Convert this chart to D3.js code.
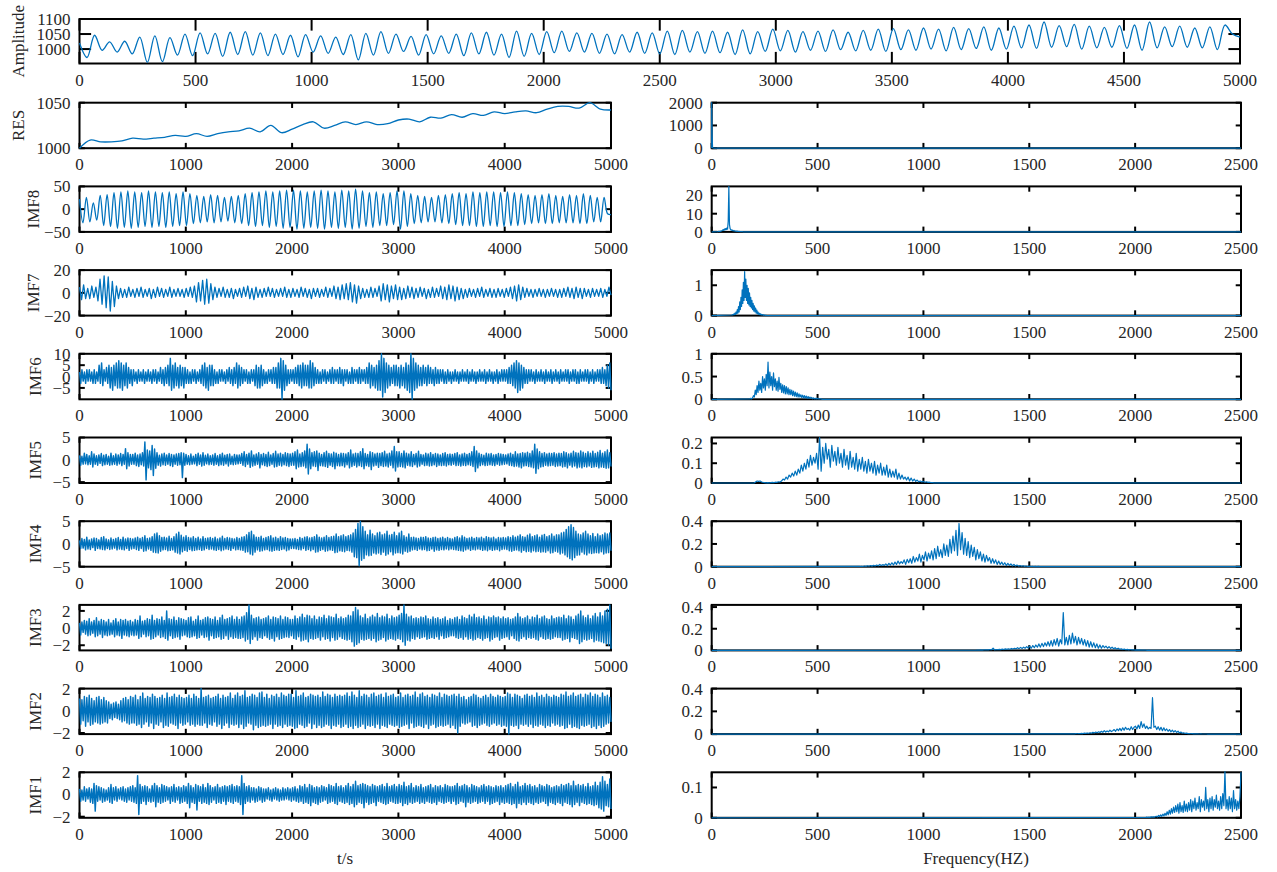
<!DOCTYPE html>
<html lang="en">
<head>
<meta charset="UTF-8">
<title>EMD decomposition</title>
<script src="https://d3js.org/d3.v7.min.js"></script>
<style>
  body { margin: 0; background: #fff; }
  svg { display: block; font-family: "Liberation Serif", "Times New Roman", serif; }
</style>
</head>
<body>
<svg id="chart" width="1277" height="872"></svg>
<script>
// ---- tick labels ----
const ampXTicks = [0, 500, 1000, 1500, 2000, 2500, 3000, 3500, 4000, 4500, 5000];
const ampYTicks = [1000, 1050, 1100];
const timeTicks = [0, 1000, 2000, 3000, 4000, 5000];
const freqTicks = [0, 500, 1000, 1500, 2000, 2500];

// ---- original signal (peaks / troughs, 0..5000) ----
const amplitude = [
  1020, 972, 1046, 996, 1024, 990, 1026, 984, 1040, 956, 1044, 958, 1038, 980, 1050, 978, 1054, 984, 1052, 976, 1056, 982, 1058, 980, 1054, 978, 1050, 982, 1046, 974, 1048,
  990, 1044, 986, 1040, 982, 1048, 964, 1052, 980, 1058, 986, 1050, 992, 1042, 980, 1048, 984, 1044, 986, 1050, 978, 1054, 984, 1056, 980, 1050, 972, 1060, 976, 1052, 982,
  1058, 988, 1060, 992, 1054, 990, 1052, 986, 1050, 984, 1048, 990, 1056, 986, 1054, 984, 1060, 982, 1062, 990, 1058, 986, 1060, 988, 1056, 982, 1064, 984, 1058, 992, 1066,
  994, 1062, 990, 1058, 996, 1060, 992, 1064, 998, 1056, 994, 1062, 996, 1066, 992, 1068, 998, 1064, 996, 1070, 1000, 1066, 994, 1072, 998, 1068, 1002, 1074, 996, 1070, 1000,
  1076, 1004, 1080, 1002, 1090, 1006, 1078, 1008, 1082, 1000, 1076, 1004, 1072, 1006, 1078, 1002, 1080, 996, 1090, 1004, 1074, 1008, 1076, 1006, 1070, 1004, 1074, 998, 1080, 1050, 1040
];

// ---- decomposition, time domain ----
const res = [1000, 1009, 1007, 1007, 1008, 1011, 1010, 1011, 1012, 1014, 1013, 1016, 1013, 1016, 1018, 1019, 1022, 1018, 1025, 1017,
  1021, 1026, 1029, 1022, 1025, 1029, 1026, 1029, 1026, 1027, 1031, 1032, 1029, 1034, 1033, 1037, 1034, 1038, 1036, 1040,
  1038, 1040, 1041, 1039, 1043, 1046, 1046, 1044, 1050, 1043, 1042];

const imf8 = [
  22,-30,26,-28,14,-24,30,-36,32,-38,36,-42,38,-40,40,-42,38,-40,36,-38,40,-40,38,-38,36,-40,38,-38,34,-36,38,
  -36,34,-32,30,-30,28,-28,32,-30,30,-28,26,-26,28,-30,30,-32,34,-36,36,-38,38,-36,40,-40,38,-38,40,-42,42,-40,
  42,-44,40,-42,38,-40,40,-42,42,-44,40,-40,38,-42,42,-40,40,-44,44,-42,40,-38,36,-40,38,-36,34,-36,36,-34,40,
  -44,40,-38,34,-32,30,-30,28,-28,26,-28,30,-30,32,-32,34,-34,36,-36,34,-36,38,-38,36,-38,38,-36,38,-38,36,-38,
  38,-36,36,-36,34,-34,32,-32,30,-30,32,-32,34,-32,30,-30,28,-30,32,-30,30,-32,34,-32,30,-28,26,-28,26,-10,-12
];

const imf7 = [
  5,-6,7,-5,4,-5,6,-4,5,-7,12,-10,15,-13,14,-16,10,-12,6,-5,4,-4,3,-4,5,-3,
  3,-4,4,-3,5,-4,3,-3,4,-5,3,-4,5,-3,4,-4,3,-3,5,-4,3,-3,4,-3,3,-4,
  4,-3,5,-4,6,-8,9,-7,11,-10,12,-9,8,-6,5,-4,4,-3,5,-4,3,-4,4,-5,3,-3,
  4,-4,5,-3,6,-5,4,-6,5,-4,3,-4,4,-3,5,-3,4,-4,3,-3,4,-3,5,-4,3,-4,
  4,-3,3,-4,5,-3,4,-4,3,-5,4,-3,4,-4,3,-3,5,-4,4,-3,6,-5,5,-6,7,-5,
  8,-6,9,-8,7,-9,6,-5,4,-4,3,-4,5,-4,4,-3,6,-7,8,-6,7,-8,6,-5,7,-6,
  5,-6,4,-5,6,-4,5,-5,4,-4,5,-3,4,-5,3,-4,5,-4,4,-3,6,-5,5,-6,7,-5,
  6,-7,5,-6,4,-5,3,-4,4,-3,3,-4,4,-3,5,-4,3,-3,4,-4,3,-4,4,-3,3,-4,
  4,-3,5,-5,6,-7,7,-6,5,-4,4,-3,3,-4,3,-3,4,-3,3,-4,3,-3,4,-3,3,-4,
  3,-4,4,-3,5,-4,4,-5,5,-4,4,-5,4,-3,3,-4,4,-3,3,-3,4,-4,3,-3,5,-2
];

const imf6 = [
  2,-3,3,-2,2,-3,3,-2,3,-2,2,-3,3,-3,2,-2,5,-3,6,-4,3,-2,4,-3,5,-5,4,-6,5,-4,6,-5,7,-5,6,-6,5,-4,6,-5,4,-3,3,-4,
  3,-2,2,-3,3,-2,2,-2,3,-3,2,-2,3,-2,2,-3,3,-2,3,-3,2,-2,4,-3,3,-4,4,-3,5,-4,8,-6,5,-5,6,-4,4,-5,5,-4,4,-5,4,-3,
  3,-3,2,-3,3,-2,3,-3,2,-2,3,-3,5,-4,6,-5,4,-6,5,-4,5,-4,3,-3,2,-3,3,-2,3,-2,2,-3,3,-2,4,-3,3,-4,4,-3,6,-5,5,-4,
  4,-3,3,-2,3,-3,2,-3,3,-2,3,-4,5,-5,4,-5,5,-4,3,-3,2,-3,3,-2,3,-3,4,-3,4,-5,6,-5,8,-10,7,-6,5,-4,3,-3,3,-2,
  3,-3,4,-3,5,-4,5,-5,6,-4,5,-4,5,-5,7,-5,6,-4,4,-3,3,-3,2,-3,3,-2,3,-3,2,-2,3,-3,4,-3,3,-2,3,-3,4,-3,3,-4,
  3,-2,3,-3,2,-3,4,-3,3,-2,3,-3,4,-3,3,-2,3,-3,4,-3,6,-5,5,-4,4,-5,5,-6,7,-6,10,-9,8,-7,6,-5,5,-4,4,-3,5,-4,
  5,-4,4,-5,5,-4,4,-5,6,-6,5,-7,10,-10,8,-6,6,-5,5,-4,4,-4,5,-3,4,-4,5,-3,4,-3,3,-4,4,-3,3,-3,3,-2,3,-3,2,-3,3,-2,
  2,-3,2,-2,3,-2,2,-3,2,-2,3,-2,2,-2,3,-3,2,-2,3,-2,2,-3,2,-2,3,-2,2,-2,3,-3,2,-2,3,-2,2,-3,2,-2,3,-3,2,-2,3,-2,
  3,-2,3,-3,4,-3,5,-4,6,-5,7,-7,6,-6,5,-5,4,-3,3,-3,3,-2,3,-2,2,-3,3,-2,2,-2,3,-2,2,-3,3,-2,2,-2,3,-3,2,-2,3,-2,
  2,-3,3,-2,2,-2,3,-2,3,-3,2,-2,3,-2,3,-3,2,-3,3,-2,2,-2,3,-2,3,-3,2,-2,3,-3,2,-2,3,-2,3,-3,4,-3,3,-4,5,-5,6,-6
];

const imf5 = [
  1,-1.2,0.8,-1,1.5,-0.9,1.2,-1.1,0.9,-1,1.8,-1.6,1.3,-1,0.9,-1.2,1.1,-0.8,1.4,-1.3,1,-1.1,1.2,-1,0.8,-1.2,1.5,-1.1,0.9,-1,1.3,-1.2,1.1,-0.9,1.4,-1.3,1.2,-1,2.5,-2,1.6,-1.4,1.2,-1,
  1.2,-1,1.5,-1.3,1.1,-1.5,1.3,-1.1,1.6,-1.4,4,-4.5,2.2,-1.8,2,-2.2,3.2,-3.5,2.4,-1.9,1.6,-1.2,1,-1.4,1.3,-1.1,1.5,-1.2,1.1,-1,1.4,-1.3,1.2,-1.5,1.1,-1,1.3,-1.2,1.4,-1.1,1.6,-4,1.5,-1.2,
  1.2,-1,0.9,-1.1,1.3,-1,0.8,-0.9,1.2,-1.3,1.5,-1,1.1,-1.4,1.6,-1.2,1,-0.9,1.3,-1.1,0.9,-1,1.1,-1.2,1.4,-1,0.9,-1.3,1.2,-1.1,1.5,-1.2,1,-0.9,1.2,-1.4,1.3,-1,0.8,-1.1,1.2,-1,1.1,-0.9,
  1.1,-0.8,1.4,-1.2,1.8,-1.5,1.2,-1,1.5,-1.7,2,-1.4,1.1,-1.2,1.3,-1,1.6,-1.8,1.2,-1.1,1.4,-1.3,1.2,-1.5,1.7,-1.3,1.1,-1,1.4,-1.6,1.9,-1.5,1.3,-1.2,1.5,-1.4,1.2,-1.1,1.6,-1.3,1.4,-1.5,1.3,-1.2,
  1.5,-1.2,1.8,-2,2.2,-1.6,1.3,-1.5,1.6,-1.4,2,-1.8,3.5,-3.2,2.4,-2,1.6,-1.4,1.8,-1.5,2,-2.4,1.5,-1.3,1.2,-1.4,1.6,-1.5,1.9,-1.7,1.4,-1.2,1.3,-1.5,1.7,-2,1.5,-1.3,1.2,-1.4,1.5,-1.3,1.4,-1.6,
  1.3,-1.1,1.6,-1.8,2.2,-1.5,1.3,-1.2,1.5,-1.6,1.4,-1.3,1.8,-1.5,2.5,-2,1.4,-1.3,1.2,-1.5,1.8,-2.2,1.6,-1.4,1.3,-1.2,1.5,-1.7,1.4,-1.3,1.6,-1.5,1.9,-1.4,1.3,-1.6,1.5,-1.2,2,-1.8,3,-2.5,1.8,-1.6,
  1.8,-1.5,1.4,-1.6,2,-1.8,1.5,-1.2,1.3,-1.4,1.8,-1.5,1.2,-1.1,1.4,-1.6,1.9,-1.4,1.2,-1,1.1,-1.3,1.5,-1.2,1.3,-1.4,1.6,-1.3,1.2,-1.1,1.4,-1.5,1.3,-1.2,1.1,-1.3,1.4,-1.2,1.6,-1.4,1.2,-1.1,1.3,-1.2,
  1.2,-1,1.4,-1.3,1.6,-1.2,1.1,-1.4,1.3,-1.2,1.5,-1.3,1.2,-1.1,1.4,-1.2,1.8,-1.5,3,-2.6,2,-1.8,1.5,-1.3,1.2,-1.1,1,-1.3,1.5,-1.2,1.3,-1.1,1.4,-1.2,1.1,-1.3,1.2,-1,1.4,-1.2,1.3,-1.1,1.2,-1,
  1.1,-0.9,1.3,-1.2,1.5,-1.3,1.2,-1.5,1.8,-1.4,1.3,-1.6,1.4,-1.8,1.6,-1.4,1.5,-1.3,1.7,-1.5,1.4,-1.6,2,-1.8,3.5,-3,2.4,-2,1.8,-1.6,1.4,-1.5,1.6,-1.2,1.3,-1.4,1.5,-1.3,1.4,-1.2,1.6,-1.5,1.3,-1.4,
  1.5,-1.3,1.4,-1.6,1.8,-1.5,1.6,-1.8,1.3,-1.2,1.5,-1.6,1.9,-1.4,1.6,-1.8,1.5,-1.6,2,-1.8,1.7,-1.5,1.4,-1.6,1.8,-1.4,1.5,-1.7,1.9,-1.6,1.4,-1.5,1.7,-1.8,2.1,-1.6,1.5,-1.7,1.8,-1.9,2.2,-1.8,1.6,-1.5
];

const imf4 = [
  0.8,-1,1.2,-0.9,1,-1.3,1.5,-1.1,0.9,-1.2,1.1,-0.8,1.3,-1.4,1.2,-1,0.9,-1.1,1.4,-1.2,1.6,-1.3,1.1,-1,0.9,-1.2,1.3,-1.1,1,-0.9,1.2,-1.3,1.4,-1.1,1,-1.2,1.5,-1.3,1.1,-1,1.3,-1.4,1.2,-1.1,
  1.1,-1,1.3,-1.2,1.5,-1.4,1.2,-1,1.4,-1.6,1.8,-1.5,1.2,-1.1,1.3,-1.4,1.6,-1.8,2.2,-1.9,2.4,-2,1.8,-1.6,1.4,-1.3,1.5,-1.2,1.3,-1.5,1.7,-1.4,1.2,-1.3,1.6,-1.8,2.2,-2,2.6,-2.2,1.9,-1.7,1.5,-1.4,
  1.8,-1.6,1.4,-1.2,1.3,-1.5,1.6,-1.4,1.2,-1.3,1.5,-1.2,1.1,-1.4,1.6,-1.3,1.2,-1,1.3,-1.2,1.4,-1.1,1.2,-1.3,1.5,-1.4,1.1,-1.2,1.3,-1.5,1.7,-1.3,1.2,-1.1,1.4,-1.2,1.3,-1.4,1.2,-1,1.1,-1.3,1.4,-1.2,
  1.2,-1.3,1.5,-1.4,1.6,-1.8,2,-1.7,2.5,-2.2,2.8,-2.4,2,-1.8,1.5,-1.3,1.4,-1.6,1.7,-1.5,1.2,-1.3,1.4,-1.2,1.6,-1.5,1.8,-1.6,1.3,-1.4,1.5,-1.3,1.2,-1.4,1.6,-1.2,1.3,-1.1,1.4,-1.5,1.2,-1.3,1.1,-1,
  1.1,-1,1.2,-1.1,1,-1.2,1.4,-1.3,1.2,-1,1.5,-1.4,1.6,-1.2,1.3,-1.5,1.4,-1.2,1.6,-1.8,2,-1.7,1.5,-1.4,1.3,-1.2,1.5,-1.6,1.8,-1.5,1.4,-1.3,1.6,-1.4,1.7,-1.9,2.2,-1.8,1.6,-1.5,1.8,-1.6,2,-1.7,
  1.6,-1.4,1.8,-1.5,2,-1.8,2.4,-2.8,3.2,-3,4.5,-4.8,5,-3.6,3.8,-3.2,2.8,-2.4,2,-2.6,3,-2.5,2.2,-2,1.8,-2.2,2.4,-2,2.6,-2.3,2,-1.8,2.2,-2.5,2.8,-2.2,1.9,-1.7,2.1,-2.4,2.6,-2,1.8,-1.9,
  2.4,-2,2.8,-2.2,1.8,-1.6,1.5,-1.8,2.2,-1.6,1.4,-1.3,1.5,-1.2,1.3,-1.4,1.2,-1.1,1.5,-1.3,1.4,-1.2,1.6,-1.5,1.3,-1.4,1.2,-1.1,1.4,-1.6,1.5,-1.3,1.2,-1.4,1.3,-1.2,1.5,-1.3,1.2,-1.1,1.4,-1.3,1.2,-1.1,
  1.1,-1.2,1.4,-1.3,1.6,-1.4,1.3,-1.5,1.8,-1.6,1.5,-1.3,1.2,-1.1,1.3,-1.4,1.5,-1.2,1.2,-1.3,1.4,-1.1,1.3,-1.2,1.5,-1.4,1.2,-1.3,1.6,-1.5,1.4,-1.2,1.3,-1.4,1.5,-1.3,1.1,-1.2,1.4,-1.5,1.3,-1.2,1.4,-1.1,
  1.3,-1.2,1.6,-1.5,1.4,-1.6,1.8,-1.4,1.5,-1.3,1.7,-1.5,2,-1.8,1.6,-1.4,1.5,-1.7,1.9,-1.6,2.2,-1.8,1.6,-1.5,1.8,-1.7,2,-1.6,1.5,-1.8,1.9,-1.7,2.1,-1.8,1.6,-1.5,1.8,-2,2.2,-1.9,1.7,-1.6,2,-1.8,
  2,-2.2,2.4,-2,2.6,-2.4,3.2,-2.8,3.8,-3.2,4.2,-3.5,3.6,-3,2.8,-2.5,2.2,-2.4,2,-1.8,2.4,-2.2,2.8,-2.4,2.2,-2,1.8,-2.1,2.3,-2,1.6,-1.9,2.2,-2,1.8,-1.7,2,-2.2,2.4,-2,2.2,-1.9,2.4,-1.5
];

const imf3 = [
  0.6,-0.8,0.7,-0.5,0.9,-0.7,0.8,-0.9,1.1,-0.8,0.7,-0.6,0.9,-1,1.2,-0.9,0.8,-0.7,1,-1.1,0.9,-0.8,0.7,-0.9,1,-0.8,0.6,-0.7,0.9,-1,1.1,-0.8,0.7,-0.9,1,-1.2,0.9,-0.8,1,-0.9,0.8,-1,0.9,-0.8,
  0.7,-0.9,1,-0.8,0.9,-1.2,1.4,-1,0.8,-0.7,0.9,-1,1.1,-0.9,1,-1.3,1.5,-1.2,0.9,-1,1.1,-0.8,1,-1.1,1.3,-1,0.9,-1.2,2,-1.4,1.1,-0.9,1,-1.2,1.3,-1.1,0.9,-1,1.2,-1.3,1.1,-0.9,1,-0.8,
  0.9,-1,1.2,-1.1,1.3,-1,0.8,-0.9,1,-1.2,1.4,-1.1,0.9,-0.8,1,-1.1,1.2,-1,1.3,-1.4,1.1,-0.9,1,-1.2,1.3,-1.1,0.9,-1,1.2,-1.3,1.5,-1.2,1,-0.9,1.1,-1.3,1.2,-1,1.4,-1.2,1,-1.1,1.3,-1.2,
  1,-1.2,1.3,-1.1,1.4,-1.5,1.8,-1.3,2.7,-1.8,1.5,-1.3,1.1,-1,1.2,-1.4,1.3,-1.1,1,-1.2,1.1,-0.9,1.2,-1.1,1.4,-1.3,1,-1.2,1.3,-1.5,1.2,-1,1.1,-1.3,1.4,-1.2,1,-1.1,1.3,-1,1.2,-1.1,1,-0.9,
  1,-1.2,1.4,-1.3,1.1,-1,1.3,-1.5,1.6,-1.4,1.2,-1.3,1.5,-1.6,1.4,-1.2,1.1,-1.3,1.4,-1.2,1,-1.1,1.3,-1.4,1.2,-1,1.5,-1.3,1.1,-1.2,1.4,-1.5,1.3,-1.1,1.2,-1.4,1.6,-1.3,1.1,-1,1.3,-1.2,1.1,-1.3,
  1.2,-1.4,1.5,-1.3,1.4,-1.6,1.9,-2.1,2.4,-1.9,2.1,-1.7,1.4,-1.3,1.2,-1.4,1.6,-1.3,1.1,-1.2,1.3,-1.4,1.5,-1.2,1.3,-1.6,1.7,-1.4,1.2,-1.3,1.4,-1.1,1.3,-1.5,1.6,-1.3,1.1,-1.2,1.4,-1.3,1.2,-1.4,1.3,-1.2,
  1.5,-1.3,1.7,-1.6,2.7,-2,1.6,-1.4,1.3,-1.5,1.4,-1.2,1.1,-1.3,1.2,-1,1.1,-1.2,1.3,-1.1,1.2,-1,1.4,-1.3,1.1,-1.2,1,-1.1,1.3,-1.2,1.1,-1,1.2,-1.3,1,-0.9,1.1,-1.2,1.3,-1.1,0.9,-1,1.1,-0.9,
  1,-0.9,1.2,-1.1,1.3,-1.2,1,-1.1,1.4,-1.3,1.2,-1,1.1,-1.3,1.5,-1.2,1.3,-1.4,1.6,-1.3,1.2,-1.1,1.3,-1.2,1.1,-1.4,1.4,-1.2,1,-1.1,1.3,-1.5,1.2,-1.3,1.4,-1.1,1.2,-1,1.3,-1.4,1.1,-1.2,1.3,-1.1,
  1.1,-1,1.2,-1.3,1,-0.9,1.1,-1.2,1.3,-1.4,1.7,-1.5,1.3,-1.2,1.1,-1,1.2,-1.3,1.4,-1.1,1,-1.2,1.3,-1.1,1.2,-1.3,1.5,-1.4,1.1,-1,1.3,-1.2,1.4,-1.3,1.1,-1.2,1,-1.3,1.4,-1.2,1.1,-1,1.2,-1.1,
  1.3,-1.1,1.2,-1.4,1.5,-1.3,1.1,-1.2,1.4,-1.6,1.3,-1.1,1,-1.2,1.4,-1.3,1.6,-1.8,2,-1.6,1.4,-1.3,1.2,-1.4,1.5,-1.3,1.1,-1.2,1.4,-1.6,1.7,-1.4,1.3,-1.5,1.8,-1.6,1.4,-1.7,2,-1.8,2.2,-2,2.7,-2.4
];

const imf2 = [
  1.1,-1.2,1,-0.9,1.3,-1.4,1.2,-1,1.4,-1.3,1.1,-1.2,0.9,-1,1.2,-1.1,1.3,-1.2,1,-1.1,1.2,-1,0.9,-1.1,0.8,-0.7,0.6,-0.8,0.7,-0.6,0.8,-0.7,0.6,-0.8,0.9,-1,1.1,-0.9,1.2,-1.1,1,-1.2,1.3,-1.1,
  1.2,-1.1,1.4,-1.3,1,-1.2,1.3,-1.5,1.6,-1.2,1.1,-1,1.3,-1.4,1.2,-1.1,1.5,-1.6,1.3,-1.2,1.1,-1.3,1.2,-1,1.4,-1.5,1.1,-1.3,1.6,-1.4,1.2,-1.1,1.3,-1.2,1.5,-1.3,1.2,-1.6,1.4,-1.1,1.2,-1.3,1.1,-1.2,
  1.2,-1,1.4,-1.3,1.1,-1.2,1.5,-1.4,1.3,-1.2,1.1,-1.3,2,-1.3,1.2,-1.1,1.3,-1.5,1.4,-1.2,1.1,-1.3,1.2,-1,1.3,-1.4,1.5,-1.2,1.1,-1.6,1.4,-1.3,1.2,-1.1,1.3,-1.5,1.6,-1.2,1.1,-1.3,1.4,-1.2,
  1.6,-1.5,1.3,-1.2,1.4,-1.6,1.8,-1.4,1.2,-1.1,1.3,-1.2,1.5,-1.7,1.4,-1.3,1.2,-1.5,1.6,-1.4,1.7,-1.3,1.2,-1.4,1.5,-1.3,1.1,-1.2,1.4,-1.6,1.3,-1.2,1.5,-1.4,1.2,-1.3,1.6,-1.5,1.4,-1.2,1.3,-1.4,1.5,-1.3,
  1.5,-1.4,1.2,-1.6,1.8,-1.5,1.3,-1.2,1.4,-1.3,1.6,-1.5,1.2,-1.4,1.3,-1.1,1.5,-1.6,1.4,-1.2,1.3,-1.5,1.4,-1.3,1.2,-1.5,1.7,-1.4,1.3,-1.2,1.5,-1.3,1.4,-1.6,1.2,-1.3,1.5,-1.4,1.3,-1.2,1.4,-1.5,1.3,-1.4,
  1.4,-1.2,1.6,-1.5,1.3,-1.4,1.7,-1.6,1.4,-1.3,1.2,-1.5,1.8,-1.4,1.3,-1.2,1.5,-1.6,1.4,-1.3,1.2,-1.4,1.5,-1.3,1.6,-1.5,1.3,-1.2,1.4,-1.6,1.5,-1.3,1.2,-1.4,1.6,-1.5,1.3,-1.2,1.4,-1.3,1.5,-1.4,1.2,-1.3,
  1.3,-1.5,1.6,-1.4,1.2,-1.3,1.4,-1.2,1.5,-1.6,1.3,-1.1,1.4,-1.5,1.7,-1.4,1.2,-1.3,1.5,-1.4,1.6,-1.5,1.3,-1.2,1.4,-1.6,1.2,-1.3,1.5,-1.2,1.4,-1.5,1.3,-1.4,1.6,-1.3,1.2,-1.4,1.5,-1.3,1.4,-1.2,1.3,-1.5,
  1.4,-1.3,1.5,-1.6,1.3,-2,1.5,-1.4,1.2,-1.1,1.3,-1.2,1,-1.1,1.2,-1,1.3,-1.4,1.5,-1.3,1.4,-1.5,1.2,-1.3,1.1,-1.2,1.3,-1.1,1.4,-1.3,1.2,-1.4,1.5,-1.2,1.3,-1.1,1.2,-1.3,1.4,-1.2,1.3,-1.4,1.2,-1.3,
  1.3,-1.4,1.6,-2.1,1.5,-1.3,1.2,-1.4,1.5,-1.3,1.4,-1.6,1.3,-1.2,1.1,-1.3,1.4,-1.2,1.5,-1.4,1.3,-1.2,1.4,-1.5,1.2,-1.3,1.6,-1.4,1.3,-1.2,1.4,-1.3,1.2,-1.5,1.5,-1.3,1.3,-1.4,1.2,-1.1,1.4,-1.3,1.3,-1.2,
  1.2,-1.4,1.5,-1.3,1.4,-1.6,1.7,-1.5,1.3,-1.2,1.4,-1.5,1.6,-1.4,1.3,-1.5,1.4,-1.6,1.5,-1.3,1.2,-1.4,1.5,-1.3,1.4,-1.2,1.6,-1.5,1.3,-1.4,1.5,-1.6,1.4,-1.3,1.2,-1.5,1.6,-1.4,1.3,-1.2,1.4,-1.1,1.2,-1
];

const imf1 = [
  0.5,-0.6,0.4,-0.5,0.7,-0.6,0.5,-0.4,0.6,-0.7,0.5,-0.8,1,-1.5,0.8,-0.6,0.7,-0.5,0.6,-0.7,0.5,-0.6,0.4,-0.5,0.6,-0.7,0.9,-0.8,0.6,-0.5,0.7,-0.6,0.5,-0.4,0.6,-0.5,0.7,-0.6,0.5,-0.7,0.6,-0.5,0.7,-0.6,
  0.8,-0.7,0.6,-0.8,1.7,-1.8,0.9,-0.8,0.7,-0.6,0.8,-0.9,0.7,-0.6,0.5,-0.7,0.8,-0.6,1,-1.1,0.8,-0.7,0.6,-0.8,0.9,-0.7,0.8,-0.6,0.7,-0.5,0.6,-0.8,0.7,-0.6,0.9,-0.7,0.6,-0.5,0.7,-0.8,0.6,-0.7,0.8,-0.6,
  0.7,-0.8,1,-1.2,0.8,-0.7,0.6,-0.8,0.9,-1.4,0.8,-0.6,0.7,-0.8,0.9,-0.7,0.6,-0.8,1,-0.9,0.8,-0.7,0.6,-0.5,0.7,-0.8,0.9,-0.7,0.6,-0.8,0.7,-0.6,0.8,-0.9,0.7,-0.6,0.8,-0.7,0.9,-0.8,0.7,-0.6,0.8,-0.7,
  0.7,-0.9,1.7,-1.8,1,-0.8,0.7,-0.6,0.8,-0.7,0.6,-0.5,0.6,-0.7,0.5,-0.6,0.7,-0.5,0.6,-0.7,0.5,-0.6,0.5,-0.4,0.6,-0.5,0.4,-0.6,0.5,-0.4,0.6,-0.5,0.5,-0.6,0.4,-0.5,0.6,-0.5,0.5,-0.4,0.6,-0.5,0.5,-0.6,
  0.6,-0.5,0.7,-0.6,0.5,-0.7,0.8,-0.6,0.7,-0.8,0.9,-0.7,0.6,-0.8,0.9,-1,0.8,-0.7,0.6,-0.8,0.7,-0.9,0.6,-0.7,0.8,-0.6,0.7,-0.5,0.6,-0.8,0.9,-0.7,0.8,-0.6,0.7,-0.8,1,-0.9,0.7,-0.6,0.8,-0.7,0.6,-0.8,
  0.8,-0.7,1,-0.9,0.7,-0.8,0.9,-1.1,1.2,-0.9,0.8,-0.7,0.9,-0.8,1,-1.2,0.9,-0.7,0.8,-0.9,0.7,-0.8,0.9,-0.7,0.8,-1,0.7,-0.6,0.8,-0.7,0.9,-0.8,0.7,-0.9,1,-0.8,0.7,-0.6,0.8,-0.7,0.9,-0.8,0.7,-0.8,
  0.9,-0.7,0.8,-1,1.1,-0.8,0.7,-0.9,0.8,-0.7,1,-0.8,0.6,-0.7,0.8,-0.6,0.7,-0.8,0.9,-0.7,0.6,-0.8,0.7,-0.6,0.8,-0.7,0.9,-0.8,0.6,-0.7,0.8,-0.9,0.7,-0.6,0.8,-0.7,0.6,-0.8,0.9,-0.7,0.8,-0.6,0.7,-0.8,
  0.7,-0.6,0.8,-0.9,1,-0.8,0.7,-0.6,0.8,-0.7,0.9,-1.1,0.8,-0.7,0.6,-0.8,0.9,-0.7,0.8,-0.6,0.7,-0.8,0.6,-0.7,0.8,-0.6,0.9,-0.8,0.7,-0.6,0.8,-0.9,0.7,-0.8,0.6,-0.7,0.8,-0.6,0.7,-0.9,0.8,-0.7,0.6,-0.8,
  0.8,-0.7,0.9,-0.8,1,-0.9,0.7,-0.8,0.9,-1.2,1.1,-0.8,0.7,-0.9,0.8,-0.7,1,-0.9,0.8,-0.7,0.9,-0.8,0.7,-0.9,0.8,-0.7,0.6,-0.8,0.9,-0.7,0.8,-0.6,0.7,-0.8,0.9,-1,0.8,-0.7,0.6,-0.8,0.7,-0.9,0.8,-0.7,
  0.7,-0.8,0.9,-1,0.8,-0.7,0.9,-0.8,1,-0.9,0.8,-1.1,1.2,-0.9,0.8,-0.7,0.9,-1,0.8,-0.7,0.9,-0.8,0.7,-0.9,1,-0.8,0.7,-0.9,0.8,-1,1.1,-0.9,0.8,-1.2,1.1,-1.3,1.6,-1.5,1.2,-1,0.9,-1.1,1.4,-1.3
];

// ---- spectra: values over a frequency band [from, to] in Hz, zero elsewhere ----
const resSpecBand = [0, 20];
const resSpec = [2000, 600, 40, 15, 8, 5, 4, 3, 2, 2, 1];

const imf8SpecBand = [30, 150];
const imf8Spec = [0.2,0.3,0.2,0.4,0.3,0.5,0.6,0.9,1.2,0.8,1.6,1.1,1.8,1.3,2.2,1.5,6,25,4,1.8,1.2,0.9,1.1,0.7,0.6,0.8,0.5,0.4,0.5,0.3,0.4,0.3,0.2,0.3,0.2,0.2,0.1,0.2,0.1,0.1,0];

const imf7SpecBand = [95, 265];
const imf7Spec = [0.02,0.03,0.02,0.05,0.03,0.08,0.04,0.12,0.06,0.2,0.08,0.3,0.12,0.45,0.2,0.6,0.3,0.85,0.4,1.1,0.5,1.45,0.6,1.2,0.5,1.0,0.4,0.9,0.35,0.75,0.3,0.6,0.25,0.5,0.2,0.4,0.15,0.32,0.12,0.25,0.08,0.18,0.06,0.12,0.04,0.08,0.03,0.06,0.02,0.04,0.02,0.03,0.01,0.02,0.01,0.01,0.01,0,0,0];

const imf6SpecBand = [180, 520];
const imf6Spec = [0.01,0.02,0.01,0.03,0.08,0.05,0.2,0.1,0.3,0.15,0.4,0.2,0.35,0.15,0.5,0.25,0.45,0.2,0.55,0.3,0.82,0.25,0.6,0.3,0.5,0.2,0.58,0.28,0.45,0.2,0.4,0.18,0.48,0.22,0.35,0.15,0.32,0.14,0.3,0.12,0.28,0.12,0.25,0.1,0.22,0.1,0.2,0.08,0.18,0.07,0.16,0.06,0.14,0.05,0.12,0.05,0.1,0.04,0.09,0.03,0.08,0.03,0.07,0.02,0.06,0.02,0.05,0.02,0.04,0.01,0.03,0.01,0.02,0.01,0.02,0.01,0.01,0.01,0.01,0];

const imf5SpecBand = [200, 1050];
const imf5Spec = [
  0,0.005,0.01,0.008,0.01,0.005,0.003,0.002,0.001,0.002,0.001,0.002,0.003,0.002,0.004,0.003,0.006,0.005,
  0.01,0.02,0.015,0.03,0.02,0.04,0.03,0.05,0.035,0.06,0.04,0.07,0.05,0.09,0.06,0.1,0.07,
  0.12,0.08,0.14,0.09,0.13,0.1,0.15,0.07,0.23,0.06,
  0.18,0.1,0.2,0.12,0.17,0.08,0.19,0.11,0.16,0.09,0.18,0.1,0.15,0.08,0.17,0.09,0.14,0.07,0.16,0.08,0.13,0.07,0.15,0.06,0.12,
  0.07,0.13,0.06,0.11,0.05,0.12,0.06,0.1,0.05,0.11,0.04,0.09,0.05,0.1,
  0.04,0.08,0.04,0.09,0.03,0.07,0.03,0.06,0.03,0.07,0.02,0.05,0.02,0.04,
  0.02,0.03,0.015,0.03,0.01,0.025,0.01,0.02,0.008,0.015,0.006,0.01,0.005,0.008,0.004,0.006,0.003,0.004,0.002,0.002,0.001
];

const imf4SpecBand = [700, 1550];
const imf4Spec = [
  0.002,0.004,0.002,0.006,0.003,0.008,0.004,0.01,0.005,0.012,0.006,0.015,0.008,0.02,0.01,0.018,0.012,0.025,0.01,0.03,0.015,
  0.035,0.015,0.04,0.02,0.05,0.025,0.045,0.03,0.06,0.02,0.065,0.035,0.07,0.03,
  0.09,0.04,0.08,0.05,0.11,0.04,0.1,0.06,0.13,0.05,0.12,0.07,0.14,0.06,
  0.16,0.07,0.18,0.09,0.15,0.08,0.2,0.1,0.19,0.09,0.24,
  0.12,0.27,0.14,0.32,0.1,0.38,0.15,0.3,0.11,0.25,
  0.1,0.22,0.08,0.19,0.09,0.17,0.06,0.15,0.07,0.13,0.05,
  0.11,0.04,0.1,0.05,0.08,0.03,0.07,0.03,0.06,0.02,
  0.05,0.02,0.04,0.015,0.035,0.01,0.03,0.012,0.025,0.008,0.02,0.006,0.015,0.005,
  0.01,0.004,0.008,0.003,0.006,0.002,0.005,0.002,0.004,0.001,0.003,0.001,0.002,0.001
];

const imf3SpecBand = [1250, 2100];
const imf3Spec = [
  0.002,0.003,0.002,0.004,0.003,0.005,0.004,0.006,0.005,0.008,0.006,0.02,0.005,0.008,0.006,0.01,0.007,0.012,0.008,0.014,0.01,
  0.015,0.01,0.018,0.012,0.02,0.014,0.025,0.016,0.028,0.018,0.03,0.02,0.035,0.022,
  0.04,0.02,0.045,0.025,0.05,0.03,0.06,0.03,0.065,0.035,0.07,0.04,0.08,0.04,
  0.09,0.04,0.1,0.05,0.11,0.04,0.1,0.06,0.35,0.05,
  0.12,0.05,0.14,0.06,0.16,0.07,0.13,0.05,0.12,0.06,0.11,
  0.05,0.1,0.04,0.09,0.03,0.08,0.03,0.07,0.025,0.06,0.02,0.05,0.02,0.045,
  0.025,0.04,0.02,0.035,0.018,0.03,0.015,0.025,0.012,0.02,0.01,0.015,0.008,0.012,
  0.006,0.01,0.005,0.008,0.004,0.006,0.003,0.005,0.003,0.004,0.002,0.003,0.002,0.002,0.001,0.002,0.001,0.001,0.001,0.001,0
];

const imf2SpecBand = [1700, 2350];
const imf2Spec = [
  0.002,0.003,0.002,0.004,0.003,0.005,0.004,0.006,0.005,0.008,0.006,0.01,0.007,0.012,0.008,
  0.015,0.01,0.018,0.012,0.02,0.014,0.025,0.016,0.03,0.018,0.028,0.02,0.035,0.022,0.03,
  0.04,0.025,0.045,0.03,0.05,0.03,0.055,0.035,0.06,0.04,0.05,0.035,0.065,0.04,0.06,
  0.07,0.045,0.08,0.05,0.11,0.06,0.09,0.05,0.07,0.045,0.06,0.05,
  0.32,0.06,
  0.07,0.04,0.065,0.035,0.06,0.03,0.055,0.03,0.045,
  0.025,0.04,0.02,0.035,0.018,0.03,0.015,0.025,0.01,0.018,0.008,0.012,0.006,0.008,0.004,
  0.005,0.003,0.004,0.002,0.003,0.002,0.002,0.001,0.002,0.001,0.001,0.001,0.001,0,0
];

const imf1SpecBand = [2050, 2500];
const imf1Spec = [
  0.001,0.002,0.001,0.002,0.001,0.003,0.002,0.003,0.002,0.004,
  0.005,0.003,0.008,0.004,0.01,0.005,0.012,0.006,0.015,0.008,
  0.02,0.01,0.025,0.012,0.03,0.015,0.035,0.018,0.04,0.02,0.045,0.015,0.05,0.02,0.04,0.018,0.055,0.022,0.045,0.02,
  0.05,0.025,0.06,0.02,0.055,0.03,0.065,0.025,0.05,0.03,0.07,0.02,0.06,0.035,0.055,0.025,0.1,0.03,0.06,0.02,
  0.065,0.03,0.07,0.025,0.06,0.035,0.075,0.03,0.055,0.025,0.07,0.03,0.08,0.04,
  0.155,0.03,
  0.06,0.025,0.07,0.03,0.065,0.02,0.09,0.03,0.06,0.025,0.055,0.03,0.07,0.15
];

// ---- per-row settings (built from the arrays above) ----
const rows = [
  { name: "RES",  t: res,  tDom: [1000, 1050], tTicks: [1000, 1050], spec: resSpec,  band: resSpecBand,  sDom: [0, 2000], sTicks: [0, 1000, 2000], smooth: true },
  { name: "IMF8", t: imf8, tDom: [-50, 50],    tTicks: [-50, 0, 50],  spec: imf8Spec, band: imf8SpecBand, sDom: [0, 25],   sTicks: [0, 10, 20], smooth: true },
  { name: "IMF7", t: imf7, tDom: [-20, 20],    tTicks: [-20, 0, 20],  spec: imf7Spec, band: imf7SpecBand, sDom: [0, 1.5],  sTicks: [0, 1] },
  { name: "IMF6", t: imf6, tDom: [-10, 10],    tTicks: [-5, 0, 5, 10], spec: imf6Spec, band: imf6SpecBand, sDom: [0, 1],   sTicks: [0, 0.5, 1] },
  { name: "IMF5", t: imf5, tDom: [-5.2, 5],    tTicks: [-5, 0, 5],    spec: imf5Spec, band: imf5SpecBand, sDom: [0, 0.23], sTicks: [0, 0.1, 0.2] },
  { name: "IMF4", t: imf4, tDom: [-5, 5],      tTicks: [-5, 0, 5],    spec: imf4Spec, band: imf4SpecBand, sDom: [0, 0.4],  sTicks: [0, 0.2, 0.4] },
  { name: "IMF3", t: imf3, tDom: [-2.6, 2.7],  tTicks: [-2, 0, 2],    spec: imf3Spec, band: imf3SpecBand, sDom: [0, 0.42], sTicks: [0, 0.2, 0.4] },
  { name: "IMF2", t: imf2, tDom: [-2.1, 2],    tTicks: [-2, 0, 2],    spec: imf2Spec, band: imf2SpecBand, sDom: [0, 0.4],  sTicks: [0, 0.2, 0.4] },
  { name: "IMF1", t: imf1, tDom: [-2.1, 2],    tTicks: [-2, 0, 2],    spec: imf1Spec, band: imf1SpecBand, sDom: [0, 0.15], sTicks: [0, 0.1] }
];

const svg = d3.select("#chart");
const blue = "#0072BD";
const labelColor = "#262626";
const fmt = v => String(v).replace("-", "\u2212");
let clipCount = 0;

// one boxed axes with inward ticks on all four sides, data drawn over the frame
function drawPanel(box, xDom, yDom, xTicks, yTicks, points, smooth, width) {
  const x = d3.scaleLinear().domain(xDom).range([box.x0, box.x1]);
  const y = d3.scaleLinear().domain(yDom).range([box.y1, box.y0]);
  const tl = (box.x1 - box.x0) * 0.01;
  const g = svg.append("g");

  const id = "clip" + (clipCount++);
  svg.append("clipPath").attr("id", id)
    .append("rect")
    .attr("x", box.x0 - 1).attr("y", box.y0 - 1)
    .attr("width", box.x1 - box.x0 + 2).attr("height", box.y1 - box.y0 + 2);

  // frame
  g.append("rect")
    .attr("x", box.x0).attr("y", box.y0)
    .attr("width", box.x1 - box.x0).attr("height", box.y1 - box.y0)
    .attr("fill", "none").attr("stroke", "#000").attr("stroke-width", 2);

  // ticks
  xTicks.forEach(v => {
    g.append("line").attr("x1", x(v)).attr("x2", x(v)).attr("y1", box.y1).attr("y2", box.y1 - tl)
      .attr("stroke", "#000").attr("stroke-width", 2);
    g.append("line").attr("x1", x(v)).attr("x2", x(v)).attr("y1", box.y0).attr("y2", box.y0 + tl)
      .attr("stroke", "#000").attr("stroke-width", 2);
    g.append("text").attr("x", x(v)).attr("y", box.y1 + 22)
      .attr("text-anchor", "middle").attr("font-size", 17).attr("fill", labelColor)
      .text(fmt(v));
  });
  yTicks.forEach(v => {
    g.append("line").attr("x1", box.x0).attr("x2", box.x0 + tl).attr("y1", y(v)).attr("y2", y(v))
      .attr("stroke", "#000").attr("stroke-width", 2);
    g.append("line").attr("x1", box.x1).attr("x2", box.x1 - tl).attr("y1", y(v)).attr("y2", y(v))
      .attr("stroke", "#000").attr("stroke-width", 2);
    g.append("text").attr("x", box.x0 - 9).attr("y", y(v)).attr("dy", "0.35em")
      .attr("text-anchor", "end").attr("font-size", 17).attr("fill", labelColor)
      .text(fmt(v));
  });

  const line = d3.line()
    .x(d => x(d[0]))
    .y(d => y(d[1]))
    .curve(smooth ? d3.curveCatmullRom : d3.curveLinear);

  g.append("path")
    .datum(points)
    .attr("clip-path", `url(#${id})`)
    .attr("d", line)
    .attr("fill", "none")
    .attr("stroke", blue)
    .attr("stroke-width", width || 1.3)
    .attr("stroke-linejoin", "round");
  return g;
}

const timePoints = arr => arr.map((v, i) => [i * 5000 / (arr.length - 1), v]);
const specPoints = (arr, band) => {
  const step = (band[1] - band[0]) / (arr.length - 1);
  const pts = [[0, 0]];
  arr.forEach((v, i) => pts.push([band[0] + i * step, v]));
  if (band[1] < 2500) pts.push([2500, 0]);
  return pts;
};

function yLabel(text, cx, cy) {
  svg.append("text")
    .attr("transform", `translate(${cx},${cy}) rotate(-90)`)
    .attr("text-anchor", "middle")
    .attr("dominant-baseline", "central")
    .attr("font-size", 17)
    .attr("fill", labelColor)
    .text(text);
}

// top: original signal
const topBox = { x0: 79.5, x1: 1240, y0: 19, y1: 63.5 };
drawPanel(topBox, [0, 5000], [952, 1100], ampXTicks, ampYTicks, timePoints(amplitude), true);
yLabel("Amplitude", 18, (topBox.y0 + topBox.y1) / 2);

// rows: time series on the left, spectrum on the right
const rowTop = 102.7, rowStep = 83.7, rowH = 45.5;
const labelX = { RES: 18, IMF8: 33, IMF7: 33 };
rows.forEach((r, i) => {
  const y0 = rowTop + i * rowStep;
  const left = { x0: 79.5, x1: 611, y0: y0, y1: y0 + rowH };
  const right = { x0: 711.7, x1: 1241, y0: y0, y1: y0 + rowH };
  drawPanel(left, [0, 5000], r.tDom, timeTicks, r.tTicks, timePoints(r.t), r.smooth, r.t.length > 300 ? 1.45 : 1.3);
  drawPanel(right, [0, 2500], r.sDom, freqTicks, r.sTicks, specPoints(r.spec, r.band), false, 1.2);
  yLabel(r.name, labelX[r.name] || 35, y0 + rowH / 2);
});

// x axis titles
svg.append("text").attr("x", 345).attr("y", 864).attr("text-anchor", "middle")
  .attr("font-size", 17).attr("fill", labelColor).text("t/s");
svg.append("text").attr("x", 976).attr("y", 864).attr("text-anchor", "middle")
  .attr("font-size", 17).attr("fill", labelColor).text("Frequency(HZ)");
</script>
</body>
</html>
